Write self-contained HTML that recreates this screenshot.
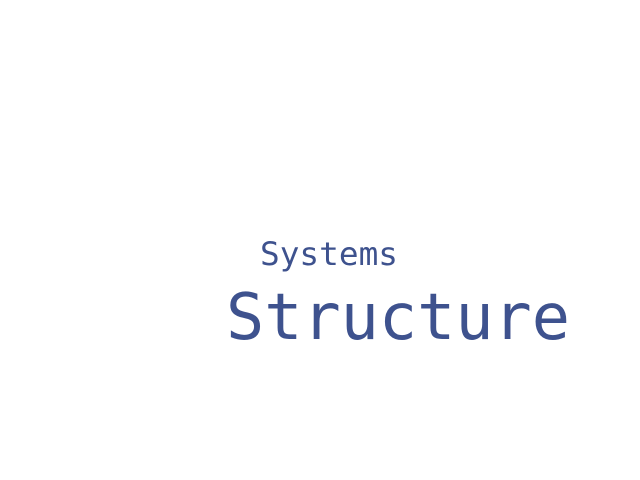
<!DOCTYPE html>
<html><head><meta charset="utf-8"><style>html,body{margin:0;padding:0;background:#fff}svg{display:block}</style></head>
<body>
<svg width="640" height="480" viewBox="0 0 640 480" xmlns="http://www.w3.org/2000/svg">
<rect width="640" height="480" fill="#fff"/>
<text x="260" y="265" font-family="DejaVu Sans Mono, Liberation Mono, monospace" font-size="32" fill="#3e528e" textLength="138" lengthAdjust="spacingAndGlyphs">Systems</text>
<text x="226" y="339" font-family="DejaVu Sans Mono, Liberation Mono, monospace" font-size="64" fill="#3e528e" textLength="344" lengthAdjust="spacingAndGlyphs">Structure</text>
</svg>
</body></html>
